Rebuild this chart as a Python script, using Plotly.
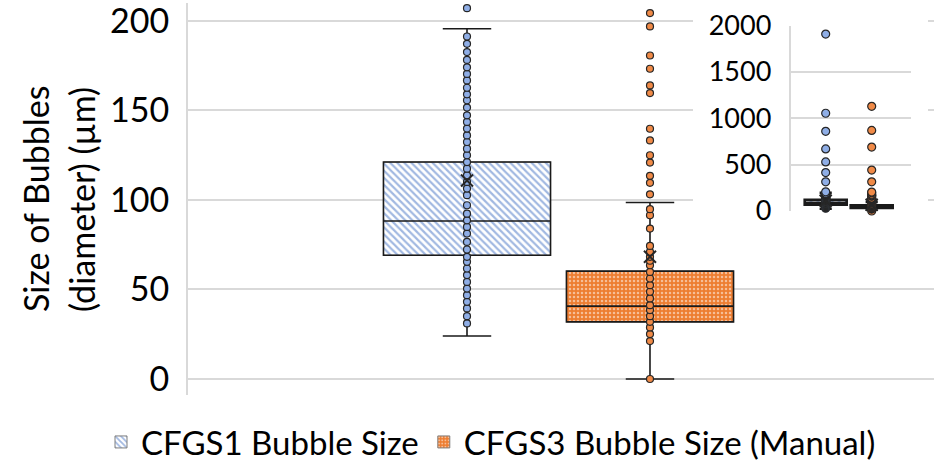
import plotly.graph_objects as go

# ---- data -------------------------------------------------------------
series_names = ["CFGS1 Bubble Size", "CFGS3 Bubble Size (Manual)"]
positions = [1, 2]

# box statistics (bubble diameter, µm)
q1 = [69.1, 31.9]
median = [88.2, 40.7]
q3 = [121.1, 60.2]
lower_whisker = [24.0, 0.0]
upper_whisker = [195.5, 98.5]
means = [110.8, 68.2]

# individual bubble measurements (µm)
cfgs1_points = [31.0, 35.1, 39.4, 43.1, 46.8, 50.5, 54.2, 58.0, 61.7, 65.4,
                68.2, 72.3, 76.5, 81.2, 84.9, 88.6, 92.3, 97.0, 102.6, 106.3,
                110.0, 113.7, 117.4, 121.1, 124.9, 128.6, 132.3, 136.0, 139.8,
                143.5, 147.2, 151.5, 155.6, 158.9, 162.6, 166.7, 170.3, 174.0,
                178.1, 182.5, 187.1, 191.2, 207.0, 315, 415, 530, 670, 860,
                1055, 1910]
cfgs3_points = [0.0, 21.2, 25.1, 28.8, 31.9, 35.1, 38.5, 41.2, 45.0, 48.7,
                52.4, 56.1, 59.8, 63.5, 66.0, 68.2, 71.0, 74.3, 84.0, 91.4,
                94.8, 103.1, 109.5, 113.4, 120.8, 124.9, 133.2, 139.7, 159.6,
                163.9, 173.2, 180.6, 196.8, 204.3, 315, 442, 690, 870, 1130]
point_sets = [cfgs1_points, cfgs3_points]

main_ticks = [0, 50, 100, 150, 200]
inset_ticks = [0, 500, 1000, 1500, 2000]

# ---- styling ----------------------------------------------------------
FONT = "Lato"
BOX_W = 0.913
fill_colors = ["#4472C4", "#ED7D31"]
patterns = [
    dict(shape="\\", fgcolor="#4472C4", bgcolor="white", size=5, solidity=0.45),
    dict(shape=".", fgcolor="white", bgcolor="#ED7D31", size=4, solidity=0.3),
]
point_fill = ["#8FAEE6", "#F08A47"]
GRID = "#d9d9d9"

fig = go.Figure()


def add_boxes(xa, ya, line_w, legend, clip, msize):
    for i in range(2):
        # patterned box body
        fig.add_trace(go.Bar(
            x=[positions[i]], y=[q3[i] - q1[i]], base=[q1[i]], width=[BOX_W],
            name=series_names[i], showlegend=legend,
            marker=dict(color=fill_colors[i], pattern=patterns[i],
                        line=dict(color="#7f7f7f", width=1)),
            xaxis=xa, yaxis=ya, hoverinfo="skip",
        ))
        # outline, median and whiskers
        fig.add_trace(go.Box(
            x=[positions[i]], q1=[q1[i]], median=[median[i]], q3=[q3[i]],
            lowerfence=[lower_whisker[i]], upperfence=[upper_whisker[i]],
            orientation="v", width=BOX_W, whiskerwidth=0.29,
            fillcolor="rgba(0,0,0,0)", line=dict(color="#1a1a1a", width=line_w),
            boxpoints=False, showlegend=False, xaxis=xa, yaxis=ya,
            hoverinfo="skip",
        ))
    for i in range(2):
        pts = point_sets[i]
        fig.add_trace(go.Scatter(
            x=[positions[i]] * len(pts), y=pts, mode="markers",
            marker=dict(size=msize, color=point_fill[i],
                        line=dict(color="#262626", width=1.2)),
            showlegend=False, cliponaxis=clip, xaxis=xa, yaxis=ya,
            hoverinfo="skip",
        ))
        fig.add_trace(go.Scatter(
            x=[positions[i]], y=[means[i]], mode="markers",
            marker=dict(symbol="x-thin", size=12,
                        line=dict(color="#262626", width=2)),
            showlegend=False, cliponaxis=clip, xaxis=xa, yaxis=ya,
            hoverinfo="skip",
        ))


# main panel
add_boxes("x", "y", 1.6, True, True, 7)

# white backing panel for the inset
fig.add_trace(go.Scatter(x=[None], y=[None], xaxis="x2", yaxis="y2",
                         showlegend=False, hoverinfo="skip"))

# inset panel (full range)
add_boxes("x3", "y3", 2.6, False, False, 8)

W, H = 934, 463


def px_x(a, b):
    return [a / W, b / W]


def px_y(top, bottom):
    return [1 - bottom / H, 1 - top / H]


fig.update_layout(
    width=W, height=H,
    margin=dict(l=0, r=0, t=0, b=0, autoexpand=False),
    paper_bgcolor="white", plot_bgcolor="white",
    barmode="overlay", boxmode="overlay",
    font=dict(family=FONT, color="#000000"),
    xaxis=dict(domain=px_x(188, 934), range=[-0.5246, 3.552], visible=False,
               automargin=False),
    yaxis=dict(domain=px_y(3, 395), range=[-8.93, 209.9], tickvals=main_ticks,
               automargin=False, ticklabeloverflow="allow",
               showgrid=True, gridcolor=GRID, gridwidth=2,
               showline=True, linecolor=GRID, linewidth=2, zeroline=False,
               ticks="outside", ticklen=10, tickcolor="rgba(0,0,0,0)",
               tickfont=dict(family=FONT, size=34, color="#000000")),
    xaxis2=dict(domain=px_x(693, 928), range=[0, 1], visible=False,
                anchor="y2", automargin=False),
    yaxis2=dict(domain=px_y(0, 244), range=[0, 1], visible=False,
                anchor="x2", automargin=False),
    xaxis3=dict(domain=px_x(790.7, 910.7), range=[0.239, 2.848],
                visible=False, anchor="y3", automargin=False),
    yaxis3=dict(domain=px_y(25.7, 211), range=[0, 2000], tickvals=inset_ticks,
                anchor="x3", automargin=False, ticklabeloverflow="allow",
                showgrid=True, gridcolor=GRID, gridwidth=2,
                showline=True, linecolor=GRID, linewidth=2, zeroline=False,
                ticks="outside", ticklen=12, tickcolor="rgba(0,0,0,0)",
                tickfont=dict(family=FONT, size=27, color="#000000")),
    legend=dict(orientation="h", xref="container", yref="container",
                x=491 / W, xanchor="center",
                y=1 - 442 / H, yanchor="middle",
                font=dict(family=FONT, size=33, color="#000000"),
                bgcolor="rgba(0,0,0,0)"),
    annotations=[
        dict(text="Size of Bubbles", textangle=-90, showarrow=False,
             xref="paper", yref="paper", x=35 / W, y=1 - 199 / H,
             xanchor="center", yanchor="middle",
             font=dict(family=FONT, size=34, color="#000000")),
        dict(text="(diameter) (µm)", textangle=-90, showarrow=False,
             xref="paper", yref="paper", x=81 / W, y=1 - 200 / H,
             xanchor="center", yanchor="middle",
             font=dict(family=FONT, size=34, color="#000000")),
    ],
)

fig.write_html("out.html")
